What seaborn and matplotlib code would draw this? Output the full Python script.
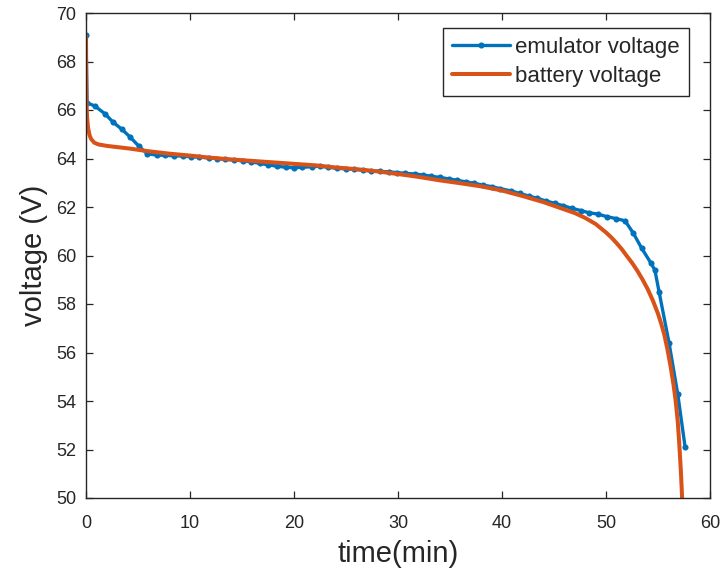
import matplotlib
matplotlib.use("Agg")
import matplotlib.pyplot as plt
import seaborn as sns
import pandas as pd

# ---- data ----
emu_time = [0.0, 0.1, 0.87, 1.83, 2.6, 3.46, 4.23, 5.1, 5.87,
            6.8, 7.6, 8.5, 9.3, 10.1, 10.9, 11.8, 12.6, 13.4, 14.2,
            15.1, 15.9, 16.7, 17.5, 18.4, 19.2, 20.0, 20.8, 21.7, 22.5,
            23.3, 24.1, 25.0, 25.8, 26.6, 27.4, 28.3, 29.1, 29.9, 30.7,
            31.6, 32.4, 33.2, 34.0, 34.9, 35.7, 36.5, 37.3, 38.2, 39.0,
            39.8, 40.9, 41.7, 42.6, 43.4, 44.2, 45.1, 45.9, 46.7, 47.6,
            48.4, 49.2, 50.1, 51.0, 51.83, 52.6, 53.43, 54.3, 54.7, 55.1,
            56.06, 56.9, 57.6]
emu_volt = [69.1, 66.3, 66.16, 65.84, 65.5, 65.2, 64.89, 64.5, 64.2,
            64.14, 64.13, 64.11, 64.10, 64.07, 64.06, 64.02, 64.0, 63.96, 63.94,
            63.9, 63.86, 63.8, 63.74, 63.68, 63.64, 63.62, 63.64, 63.66, 63.68,
            63.64, 63.6, 63.57, 63.55, 63.52, 63.49, 63.47, 63.45, 63.42, 63.39,
            63.36, 63.32, 63.27, 63.22, 63.16, 63.1, 63.04, 62.98, 62.9, 62.84,
            62.76, 62.66, 62.56, 62.45, 62.36, 62.25, 62.15, 62.05, 61.95, 61.85,
            61.76, 61.71, 61.6, 61.52, 61.43, 60.94, 60.30, 59.70, 59.40, 58.51,
            56.40, 54.28, 52.12]

bat_time = [0.0, 0.02, 0.05, 0.1, 0.2, 0.35, 0.5, 0.8, 1.2, 2.0, 3.0, 4.0,
            6.0, 8.0, 10.0, 12.0, 14.0, 16.0, 18.0, 20.0, 22.0, 24.0, 26.0,
            28.0, 30.0, 32.0, 34.0, 36.0, 38.0, 40.0, 42.0, 44.0, 45.0, 46.0,
            47.0, 48.0, 49.0, 50.0, 50.5, 51.0, 51.5, 52.0, 52.5, 53.0, 53.5,
            54.0, 54.5, 55.0, 55.3, 55.6, 55.9, 56.2, 56.5, 56.7, 56.9, 57.05,
            57.2, 57.3, 57.4]
bat_volt = [69.05, 67.5, 66.3, 65.7, 65.25, 64.95, 64.8, 64.65, 64.58, 64.52,
            64.47, 64.42, 64.3, 64.2, 64.12, 64.03, 63.96, 63.9, 63.84, 63.78,
            63.72, 63.63, 63.56, 63.47, 63.36, 63.24, 63.1, 62.98, 62.85, 62.68,
            62.45, 62.2, 62.05, 61.9, 61.75, 61.55, 61.3, 60.95, 60.75, 60.52,
            60.27, 59.98, 59.7, 59.38, 59.02, 58.62, 58.15, 57.6, 57.2, 56.75,
            56.15, 55.45, 54.65, 54.0, 53.15, 52.2, 51.1, 50.2, 49.0]

x_ticks = [0, 10, 20, 30, 40, 50, 60]
y_ticks = [50, 52, 54, 56, 58, 60, 62, 64, 66, 68, 70]

emu = pd.DataFrame({"time": emu_time, "volt": emu_volt})
bat = pd.DataFrame({"time": bat_time, "volt": bat_volt})

sns.set_style("ticks")
plt.rcParams["font.family"] = ["Liberation Sans", "DejaVu Sans"]

fig = plt.figure(figsize=(7.26, 5.74), dpi=100)
ax = fig.add_axes([86 / 726, 1 - 498 / 574, 624 / 726, 485 / 574])

BLUE = "#0072BD"
ORANGE = "#D95319"
DARK = "#262626"

sns.lineplot(data=emu, x="time", y="volt", ax=ax, color=BLUE, lw=2.4,
             marker="o", markersize=4.4, markeredgewidth=0,
             label="emulator voltage", sort=False, estimator=None)
sns.lineplot(data=bat, x="time", y="volt", ax=ax, color=ORANGE, lw=2.9,
             label="battery voltage", sort=False, estimator=None)

ax.set_xlim(0, 60)
ax.set_ylim(50, 70)
ax.set_xticks(x_ticks)
ax.set_yticks(y_ticks)
ax.tick_params(direction="in", top=True, right=True, length=5, width=0.9,
               color=DARK, labelcolor=DARK, labelsize=13)
ax.tick_params(axis="x", pad=12)
ax.tick_params(axis="y", pad=7)
for s in ax.spines.values():
    s.set_visible(True)
    s.set_color(DARK)
    s.set_linewidth(1.0)

ax.set_xlabel("time(min)", fontsize=21, color=DARK, labelpad=6)
ax.set_ylabel("voltage (V)", fontsize=21, color=DARK, labelpad=6)

leg = ax.legend(loc="upper right", bbox_to_anchor=(0.966, 0.969),
                fontsize=16, frameon=True, fancybox=False, framealpha=1,
                edgecolor=DARK, handlelength=2.6, handletextpad=0.25,
                borderpad=0.4, labelspacing=0.35, borderaxespad=0)
leg.get_frame().set_linewidth(1.0)

fig.savefig("out.png", dpi=100)
